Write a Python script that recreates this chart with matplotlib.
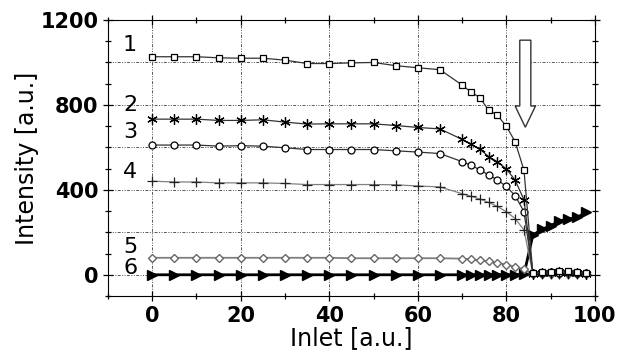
import numpy as np
import matplotlib
matplotlib.use('Agg')
import matplotlib.pyplot as plt
from matplotlib.patches import FancyArrow

plt.rcParams["font.family"] = "DejaVu Sans"

inlet = [0, 5, 10, 15, 20, 25, 30, 35, 40, 45, 50, 55, 60, 65,
         70, 72, 74, 76, 78, 80, 82, 84, 86, 88, 90, 92, 94, 96, 98]

s1 = [1027, 1027, 1027, 1022, 1020, 1020, 1011, 995, 995, 998, 1000, 985, 975, 966,
      894, 861, 835, 776, 751, 700, 627, 492, 10, 12, 15, 18, 18, 15, 10]
s2 = [733, 733, 733, 727, 727, 730, 719, 710, 711, 711, 711, 703, 694, 687,
      638, 614, 592, 557, 532, 499, 446, 353, 5, 8, 10, 12, 10, 8, 5]
s3 = [611, 611, 611, 606, 608, 606, 598, 590, 590, 590, 590, 584, 578, 571,
      533, 516, 495, 470, 447, 416, 373, 297, 8, 10, 12, 10, 12, 10, 8]
s4 = [441, 437, 437, 433, 433, 433, 430, 425, 425, 425, 425, 424, 418, 414,
      382, 370, 357, 341, 322, 297, 265, 211, 5, 5, 5, 5, 5, 5, 5]
s5 = [80, 80, 80, 80, 80, 80, 80, 80, 80, 78, 78, 78, 78, 78,
      76, 73, 68, 63, 56, 48, 37, 27, 3, 3, 3, 3, 3, 3, 3]
s6 = [0, 0, 0, 0, 0, 0, 0, 0, 0, 0, 0, 0, 0, 0,
      0, 0, 0, 0, 0, 0, 0, 2, 186, 214, 230, 254, 262, 270, 294]

labels = ['1', '2', '3', '4', '5', '6']
label_y = [1084, 801, 671, 486, 129, 33]

fig = plt.figure(figsize=(6.17, 3.56), dpi=100)
ax = fig.add_axes([0.175, 0.1685, 0.789, 0.7753])

grid_style = dict(color='#555555', linestyle=(0, (3, 1.5, 1, 1.5, 1, 1.5)), linewidth=0.7)
for gx in [0, 20, 40, 60, 80]:
    ax.axvline(gx, zorder=0, **grid_style)
for gy in [0, 200, 400, 600, 800, 1000]:
    ax.axhline(gy, zorder=0, **grid_style)

ax.plot(inlet, s6, '-', color='black', lw=2.0, marker='>', ms=6.5,
        mfc='black', mec='black', zorder=3)
ax.plot(inlet, s5, '-', color='#808080', lw=1.3, marker='D', ms=4.5,
        mfc='white', mec='#666666', mew=1.0, zorder=3)
ax.plot(inlet, s4, '-', color='#808080', lw=0.9, marker='+', ms=6.5,
        mec='#222222', mew=0.9, zorder=3)
ax.plot(inlet, s3, '-', color='#333333', lw=0.9, marker='o', ms=5,
        mfc='white', mec='black', mew=0.9, zorder=3)
ax.plot(inlet, s2, '-', color='#333333', lw=0.9, marker=(6, 2, 0), ms=7.5,
        mec='black', mew=0.9, zorder=3)
ax.plot(inlet, s1, '-', color='#333333', lw=0.9, marker='s', ms=5,
        mfc='white', mec='black', mew=0.9, zorder=4)

for t, yv in zip(labels, label_y):
    ax.text(-5, yv, t, ha='center', va='center', fontsize=16)

# downward arrow marking the drop
ax.add_patch(FancyArrow(84.3, 1105, 0, -410, width=2.5, head_width=4.6,
                        head_length=100, length_includes_head=True,
                        facecolor='white', edgecolor='#333333', lw=1.0, zorder=5))

ax.set_xlim(-10, 100)
ax.set_ylim(-100, 1200)
ax.set_xticks([0, 20, 40, 60, 80, 100])
ax.set_xticks(np.arange(-10, 101, 10), minor=True)
ax.set_yticks([0, 400, 800, 1200])
ax.set_yticks(np.arange(-100, 1201, 100), minor=True)
ax.tick_params(which='both', direction='inout', top=True, right=True,
               labelsize=15, width=0.9)
ax.tick_params(which='major', length=7)
ax.tick_params(which='minor', length=5)
for lab in ax.get_xticklabels() + ax.get_yticklabels():
    lab.set_fontweight('bold')
ax.set_xlabel('Inlet [a.u.]', fontsize=17, labelpad=0)
ax.set_ylabel('Intensity [a.u.]', fontsize=17, labelpad=1)

fig.savefig('out.png', dpi=100)
